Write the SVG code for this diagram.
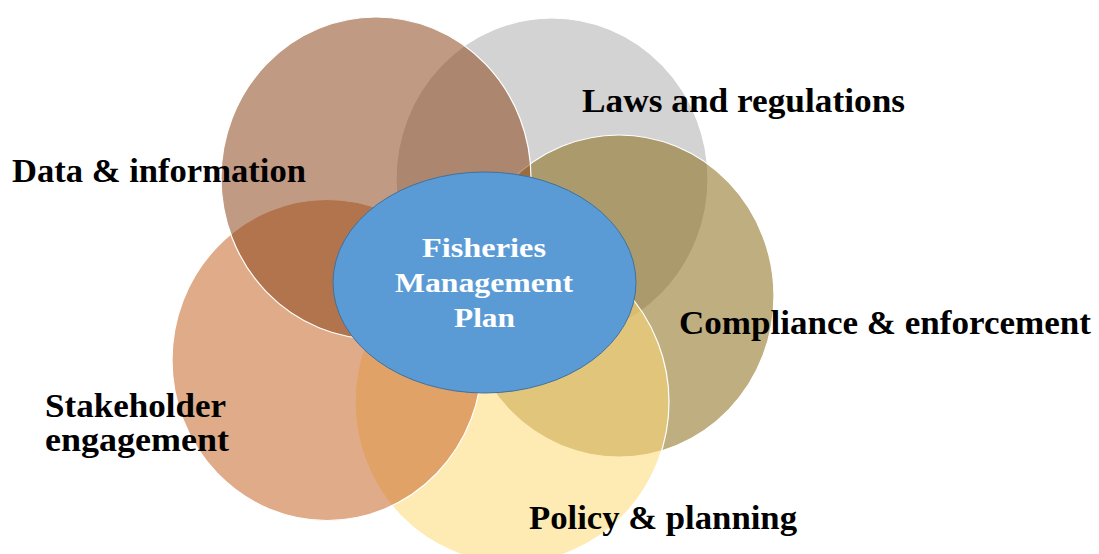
<svg xmlns="http://www.w3.org/2000/svg" width="1099" height="554" viewBox="0 0 1099 554">
  <style>
    .petal { stroke: #ffffff; stroke-width: 1.2; fill-opacity: 0.55; }
    .lbl { font-family: "Liberation Serif", "Times New Roman", serif; font-weight: bold; font-size: 33px; fill: #000000; }
    .ctr { font-family: "Liberation Serif", "Times New Roman", serif; font-weight: bold; font-size: 28px; fill: #ffffff; text-anchor: middle; }
  </style>
  <rect x="0" y="0" width="1099" height="554" fill="#ffffff"/>
  <g id="laws">
    <ellipse class="petal" cx="552" cy="179" rx="156" ry="161" fill="#AFAFAF"/>
    <text class="lbl" x="582" y="112" textLength="323" lengthAdjust="spacingAndGlyphs">Laws and regulations</text>
  </g>
  <g id="compliance">
    <ellipse class="petal" cx="619" cy="296" rx="155" ry="161" fill="#8B6C18"/>
    <text class="lbl" x="679" y="334" textLength="412" lengthAdjust="spacingAndGlyphs">Compliance &amp; enforcement</text>
  </g>
  <g id="policy">
    <ellipse class="petal" cx="512" cy="402" rx="157" ry="161" fill="#FDD975"/>
    <text class="lbl" x="529" y="529" textLength="268" lengthAdjust="spacingAndGlyphs">Policy &amp; planning</text>
  </g>
  <g id="stakeholder">
    <ellipse class="petal" cx="327" cy="360" rx="155" ry="160.5" fill="#C76627"/>
    <text class="lbl" x="45" y="417" textLength="181" lengthAdjust="spacingAndGlyphs">Stakeholder</text>
    <text class="lbl" x="45" y="451" textLength="184" lengthAdjust="spacingAndGlyphs">engagement</text>
  </g>
  <g id="data">
    <ellipse class="petal" cx="376" cy="178" rx="155" ry="161" fill="#8C471C"/>
    <text class="lbl" x="12" y="182" textLength="294" lengthAdjust="spacingAndGlyphs">Data &amp; information</text>
  </g>
  <g id="connectors"></g>
  <g id="fmp">
    <ellipse cx="484.5" cy="282.5" rx="151.5" ry="110.5" fill="#5B9BD5" stroke="#41719C" stroke-width="1"/>
    <text class="ctr" x="484" y="257" textLength="124" lengthAdjust="spacingAndGlyphs">Fisheries</text>
    <text class="ctr" x="484" y="292" textLength="178" lengthAdjust="spacingAndGlyphs">Management</text>
    <text class="ctr" x="484.5" y="327" textLength="61" lengthAdjust="spacingAndGlyphs">Plan</text>
  </g>
</svg>
